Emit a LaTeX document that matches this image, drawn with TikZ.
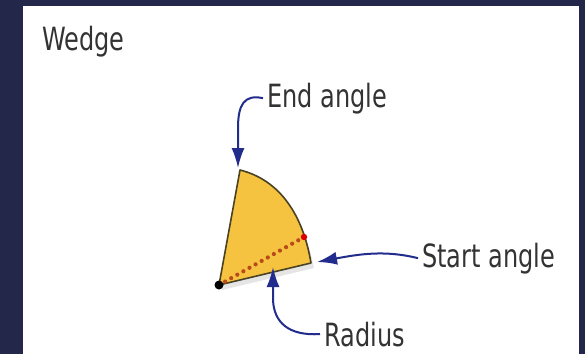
\documentclass[tikz,border=0pt]{standalone}
\usepackage{fontspec}
\setmainfont{DejaVu Sans}[FakeStretch=0.75]
\usetikzlibrary{arrows.meta, positioning, calc}
\definecolor{cnavy}{HTML}{23274A}
\definecolor{cwedge}{HTML}{F5C33F}
\definecolor{cedge}{HTML}{4A4222}
\definecolor{carrow}{HTML}{222C8C}
\definecolor{cdots}{HTML}{B84A1C}
\definecolor{ctext}{HTML}{333333}
\tikzset{
  every picture/.style={x=1pt, y=-1pt},
  lbl/.style={font=\fontsize{32}{36}\selectfont, text=ctext, inner sep=0pt},
  pointer/.style={-{Latex[length=20pt, width=13pt]}, draw=carrow, line width=2pt},
}
\begin{document}
\begin{tikzpicture}
  % frame and white panel
  \fill[cnavy] (0,0) rectangle (585,354);
  \fill[white] (23,5.5) rectangle (579,354);
  \useasboundingbox (0,0) rectangle (585,354);
  \node[lbl, anchor=base west] (title) at (42,50) {Wedge};
  % the wedge itself
  \coordinate (ctr) at (219,285);
  \coordinate (corner) at (311,263);
  \coordinate (top) at (240,170);
  \coordinate (rim) at (304,237);
  \fill[black, opacity=0.10] ($(ctr)+(3,5)$) -- ($(corner)+(3,5)$) .. controls (303,215) and (280,180) .. ($(top)+(3,5)$) -- cycle;
  \draw[cedge, fill=cwedge, line width=1.6pt, line join=round] (ctr) -- (corner) .. controls (303,215) and (280,180) .. (top) -- cycle;
  \draw[cdots, line width=4.2pt, line cap=round, dash pattern=on 0pt off 7pt] (ctr) -- (rim);
  \fill[red!85!black] (rim) circle (3.2);
  \fill[black] (ctr) circle (4.5);
  % labels and pointers
  \node[lbl, anchor=base west] (endl) at (267,107) {End angle};
  \node[lbl, anchor=base west] (startl) at (422,267) {Start angle};
  \node[lbl, anchor=base west] (radl) at (324,346) {Radius};
  \coordinate (endtip) at (238,168);
  \coordinate (starttip) at (317,262);
  \coordinate (radtip) at (273,267);
  \draw[pointer] ([xshift=-4pt]endl.west) .. controls (244,94) and (238,105) .. (238,128) -- (endtip);
  \draw[pointer] ([xshift=-4pt]startl.west) .. controls (385,250) and (360,254) .. (starttip);
  \draw[pointer] ([xshift=-4pt]radl.west) .. controls (288,336) and (274,322) .. (273,300) -- (radtip);
\end{tikzpicture}
\end{document}
